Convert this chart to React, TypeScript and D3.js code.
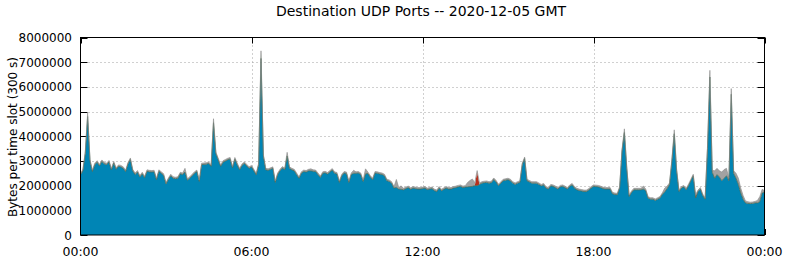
import React from "react";
import * as d3 from "d3";

// Values in millions of bytes per 5-minute slot (289 slots, 00:00 .. 24:00)
const blueM: number[] = [
  2.44, 2.6, 3.3, 4.8, 3.0, 2.57, 2.85, 2.95, 2.8, 2.98,
  2.88, 2.85, 2.96, 2.64, 2.92, 2.66, 2.78, 2.76, 2.7, 2.57,
  2.88, 3.06, 2.6, 2.45, 2.55, 2.35, 2.48, 2.32, 2.58, 2.56,
  2.55, 2.56, 2.24, 2.58, 2.5, 2.42, 2.07, 2.25, 2.4, 2.3,
  2.28, 2.3, 2.48, 2.45, 2.55, 2.22, 2.3, 2.4, 2.5, 2.57,
  2.17, 2.85, 2.86, 2.87, 2.9, 2.78, 4.55, 3.3, 3.05, 2.78,
  2.95, 3.0, 3.05, 3.08, 2.72, 3.08, 2.85, 2.64, 2.82, 2.9,
  2.8, 2.7, 2.76, 2.6, 2.44, 2.85, 7.15, 3.2, 2.64, 2.62,
  2.66, 2.7, 2.13, 2.45, 2.6, 2.71, 2.65, 3.2, 2.7, 2.64,
  2.6, 2.45, 2.3, 2.5, 2.57, 2.55, 2.6, 2.6, 2.58, 2.57,
  2.45, 2.33, 2.5, 2.52, 2.47, 2.55, 2.63, 2.5, 2.47, 2.13,
  2.4, 2.51, 2.49, 2.13, 2.45, 2.5, 2.5, 2.51, 2.45, 2.17,
  2.48, 2.49, 2.35, 2.24, 2.51, 2.5, 2.47, 2.45, 2.4, 2.2,
  2.17, 2.1, 1.9, 1.93, 1.86, 1.85, 1.83, 1.88, 1.92, 1.85,
  1.9, 1.88, 1.86, 1.86, 1.88, 1.9, 1.84, 1.86, 1.88, 1.8,
  1.76, 1.9, 1.79, 1.85, 1.9, 1.86, 1.86, 1.9, 1.92, 1.95,
  1.97, 1.92, 1.94, 1.95, 1.96, 1.97, 2.0, 2.0, 2.05, 2.1,
  2.12, 2.13, 2.1, 2.12, 2.25, 2.15, 2.0, 2.1, 2.2, 2.22,
  2.24, 2.2, 2.1, 2.05, 2.1, 2.13, 2.85, 3.1, 2.2, 2.15,
  2.1, 2.1, 2.1, 2.05, 1.99, 2.03, 1.9, 1.86, 1.99, 1.97,
  1.92, 1.86, 1.95, 1.97, 1.92, 1.86, 1.97, 2.03, 1.9, 1.83,
  1.8, 1.78, 1.76, 1.76, 1.82, 1.9, 1.97, 1.96, 1.95, 1.92,
  1.88, 1.86, 1.86, 1.86, 1.67, 1.64, 1.63, 1.9, 3.4, 4.15,
  2.7, 1.56, 1.72, 1.83, 1.83, 1.83, 1.83, 1.86, 1.8, 1.49,
  1.45, 1.45, 1.4, 1.45, 1.5, 1.65, 1.75, 1.88, 2.05, 3.0,
  4.1, 2.6, 1.76, 1.9, 1.95, 1.83, 2.0, 2.2, 2.4, 1.5,
  1.76, 1.86, 1.6, 1.45, 3.5, 6.4, 2.54, 2.3, 2.45, 2.35,
  2.2, 2.3, 2.4, 2.2, 5.7, 2.5, 2.3, 2.05, 1.7, 1.45,
  1.3, 1.28, 1.27, 1.28, 1.3, 1.3, 1.35, 1.7, 1.75,
];

const grayM: number[] = [
  0.06, 0.06, 0.06, 0.06, 0.06, 0.06, 0.06, 0.06, 0.06, 0.06,
  0.06, 0.06, 0.06, 0.06, 0.06, 0.06, 0.06, 0.06, 0.06, 0.06,
  0.06, 0.06, 0.06, 0.06, 0.06, 0.06, 0.06, 0.06, 0.06, 0.06,
  0.06, 0.06, 0.06, 0.06, 0.06, 0.06, 0.06, 0.06, 0.06, 0.06,
  0.06, 0.06, 0.06, 0.06, 0.15, 0.06, 0.06, 0.06, 0.06, 0.06,
  0.06, 0.06, 0.06, 0.06, 0.06, 0.06, 0.06, 0.06, 0.06, 0.06,
  0.06, 0.06, 0.06, 0.06, 0.06, 0.06, 0.06, 0.06, 0.06, 0.06,
  0.06, 0.06, 0.06, 0.06, 0.06, 0.06, 0.06, 0.06, 0.06, 0.06,
  0.06, 0.06, 0.06, 0.06, 0.06, 0.06, 0.06, 0.1, 0.06, 0.06,
  0.06, 0.06, 0.06, 0.06, 0.06, 0.06, 0.06, 0.08, 0.06, 0.06,
  0.06, 0.06, 0.06, 0.06, 0.06, 0.06, 0.06, 0.06, 0.06, 0.06,
  0.06, 0.06, 0.06, 0.06, 0.06, 0.12, 0.06, 0.06, 0.06, 0.06,
  0.2, 0.06, 0.06, 0.06, 0.06, 0.06, 0.06, 0.06, 0.06, 0.06,
  0.06, 0.06, 0.06, 0.32, 0.06, 0.14, 0.06, 0.06, 0.06, 0.06,
  0.06, 0.06, 0.06, 0.06, 0.06, 0.06, 0.06, 0.06, 0.06, 0.06,
  0.06, 0.06, 0.06, 0.06, 0.06, 0.06, 0.06, 0.06, 0.06, 0.06,
  0.06, 0.06, 0.06, 0.18, 0.25, 0.3, 0.12, 0.06, 0.06, 0.06,
  0.06, 0.06, 0.06, 0.06, 0.06, 0.06, 0.06, 0.06, 0.06, 0.06,
  0.06, 0.06, 0.06, 0.06, 0.06, 0.06, 0.06, 0.06, 0.06, 0.06,
  0.06, 0.06, 0.06, 0.06, 0.06, 0.06, 0.06, 0.06, 0.06, 0.06,
  0.06, 0.06, 0.06, 0.06, 0.06, 0.06, 0.06, 0.06, 0.06, 0.06,
  0.06, 0.06, 0.06, 0.06, 0.06, 0.06, 0.06, 0.06, 0.06, 0.06,
  0.06, 0.06, 0.06, 0.06, 0.06, 0.06, 0.06, 0.06, 0.06, 0.05,
  0.06, 0.06, 0.06, 0.06, 0.06, 0.06, 0.06, 0.12, 0.06, 0.06,
  0.06, 0.06, 0.06, 0.06, 0.06, 0.06, 0.15, 0.1, 0.06, 0.06,
  0.06, 0.06, 0.06, 0.06, 0.06, 0.06, 0.06, 0.06, 0.06, 0.06,
  0.06, 0.06, 0.06, 0.06, 0.1, 0.12, 0.08, 0.3, 0.25, 0.25,
  0.35, 0.35, 0.3, 0.1, 0.08, 0.1, 0.2, 0.25, 0.2, 0.15,
  0.08, 0.07, 0.06, 0.06, 0.06, 0.1, 0.2, 0.15, 0.05,
];

// sparse extra layers: [slot, millions]
const greenSpikes: [number, number][] = [
  [3, 0.08], [56, 0.1], [76, 0.25], [87, 0.05], [229, 0.1], [250, 0.1], [265, 0.15], [274, 0.15],
];
const redSpikes: [number, number][] = [
  [167, 0.55], [259, 0.08],
];

const yTicks: number[] = [0, 1000000, 2000000, 3000000, 4000000, 5000000, 6000000, 7000000, 8000000];
const xTickSlots: number[] = [0, 72, 144, 216, 288];
const xTickLabels: string[] = ["00:00", "06:00", "12:00", "18:00", "00:00"];

const TITLE = "Destination UDP Ports -- 2020-12-05 GMT";
const YLABEL = "Bytes per time slot (300 s)";

const W = 786, H = 260;
const L = 80.5, R = 764.5, T = 37.5, B = 235;
const FONT = "'DejaVu Sans'";

export default function App() {
  const n = blueM.length;
  const green = new Array(n).fill(0);
  greenSpikes.forEach(([s, v]) => (green[s] = v));
  const red = new Array(n).fill(0);
  redSpikes.forEach(([s, v]) => (red[s] = v));

  const rows = blueM.map((b, i) => ({
    i,
    blue: b * 1e6,
    red: red[i] * 1e6,
    green: green[i] * 1e6,
    gray: grayM[i] * 1e6,
  }));
  const keys = ["blue", "red", "green", "gray"];
  const colors: Record<string, string> = {
    blue: "#0085b5",
    red: "#b8301e",
    green: "#2f6e2f",
    gray: "#a2a2a2",
  };
  const series = d3.stack<any>().keys(keys)(rows);

  const x = d3.scaleLinear().domain([0, 288]).range([L, R]);
  const y = d3.scaleLinear().domain([0, 8000000]).range([B, T]);

  const area = d3
    .area<any>()
    .x((d) => x(d.data.i))
    .y0((d) => y(d[0]))
    .y1((d) => y(d[1]));
  const topLine = d3
    .line<any>()
    .x((d) => x(d.data.i))
    .y((d) => y(d[1]));

  const ts = { fontFamily: FONT };

  return (
    <svg
      width={W}
      height={H}
      style={{ position: "absolute", left: 0, top: 0, background: "#fff" }}
    >
      <rect x={0} y={0} width={W} height={H} fill="#fff" />
      {yTicks.slice(1, -1).map((t) => (
        <line key={"gy" + t} x1={L} x2={R} y1={Math.round(y(t)) + 0.5} y2={Math.round(y(t)) + 0.5}
          stroke="#a0a0a0" strokeWidth={1} strokeDasharray="1,3" />
      ))}
      {xTickSlots.slice(1, -1).map((s) => (
        <line key={"gx" + s} x1={Math.round(x(s)) + 0.5} x2={Math.round(x(s)) + 0.5} y1={T} y2={B}
          stroke="#a0a0a0" strokeWidth={1} strokeDasharray="1,3" />
      ))}
      {yTicks.map((t) => (
        <g key={"ty" + t}>
          <line x1={L} x2={L + 7} y1={Math.round(y(t)) + 0.5} y2={Math.round(y(t)) + 0.5} stroke="#000" />
          <line x1={R - 7} x2={R} y1={Math.round(y(t)) + 0.5} y2={Math.round(y(t)) + 0.5} stroke="#000" />
        </g>
      ))}
      {xTickSlots.map((s) => (
        <g key={"tx" + s}>
          <line x1={Math.round(x(s)) + 0.5} x2={Math.round(x(s)) + 0.5} y1={T} y2={T + 6} stroke="#000" />
          <line x1={Math.round(x(s)) + 0.5} x2={Math.round(x(s)) + 0.5} y1={B - 6} y2={B} stroke="#000" />
        </g>
      ))}
      {series.map((s: any) => (
        <path key={s.key} d={area(s) || ""} fill={colors[s.key]} />
      ))}
      {series
        .filter((s: any) => s.key === "blue")
        .map((s: any) => (
          <path key="bl" d={topLine(s) || ""} fill="none" stroke="#4d6a55" strokeWidth={0.8} />
        ))}
      {series
        .filter((s: any) => s.key === "gray")
        .map((s: any) => (
          <path key="gl" d={topLine(s) || ""} fill="none" stroke="#8a8a8a" strokeWidth={0.6} />
        ))}
      <rect x={L} y={T} width={R - L} height={B - T} fill="none" stroke="#000" strokeWidth={1} />
      {yTicks.map((t) => (
        <text key={"ly" + t} x={72} y={y(t) + 4.5} textAnchor="end" fontSize={12} fill="#000" style={ts}>
          {String(t)}
        </text>
      ))}
      {xTickSlots.map((s, i) => (
        <text key={"lx" + s} x={x(s)} y={255.5} textAnchor="middle" fontSize={12.5} fill="#000" style={ts}>
          {xTickLabels[i]}
        </text>
      ))}
      <text x={421} y={16} textAnchor="middle" fontSize={14} fill="#000" style={ts}>
        {TITLE}
      </text>
      <text transform={`translate(16.5,137) rotate(-90)`} textAnchor="middle" fontSize={12} fill="#000" style={ts}>
        {YLABEL}
      </text>
    </svg>
  );
}
